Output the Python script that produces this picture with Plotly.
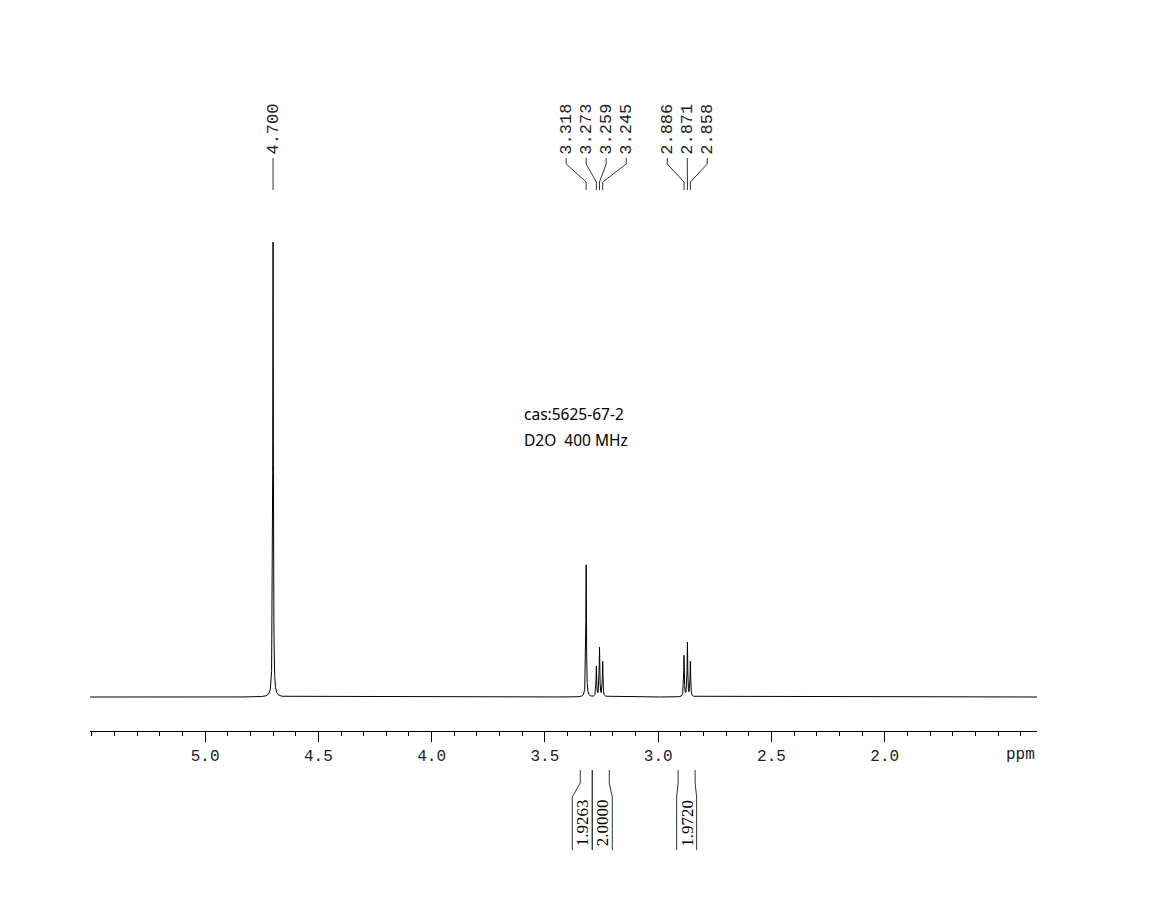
import numpy as np
import plotly.graph_objects as go

# ---------------- data ----------------
peak_ppm = [4.700, 3.318, 3.273, 3.259, 3.245, 2.886, 2.871, 2.858]
peak_height = [455, 132, 30, 49, 35, 41, 54, 35]          # relative intensity
peak_labels = ["4.700", "3.318", "3.273", "3.259", "3.245", "2.886", "2.871", "2.858"]
label_groups = [[0], [1, 2, 3, 4], [5, 6, 7]]

integral_bounds = [(3.344, 3.291), (3.291, 3.216), (2.912, 2.837)]
integral_values = ["1.9263", "2.0000", "1.9720"]

tick_vals = [5.5, 5.0, 4.5, 4.0, 3.5, 3.0, 2.5, 2.0, 1.5]
tick_text = ["", "5.0", "4.5", "4.0", "3.5", "3.0", "2.5", "2.0", ""]
x_range = [5.508, 1.328]

sample_text = ["cas:5625-67-2", "D2O  400 MHz"]

# ---------------- geometry / style ----------------
W, H = 1153, 899
BASE_PX = 697            # baseline pixel row
AXIS_PX = 731
PX_PER_PPM = 226.5
GAMMA = 0.0016           # lorentzian half width (ppm)
TEXT_GREY = "#222222"

def ypx(py):
    """convert page pixel row to y data units (pixels above baseline)"""
    return BASE_PX - py

# spectrum as sum of lorentzians of the picked peaks
grid = np.union1d(np.linspace(x_range[1], x_range[0], 21000), np.array(peak_ppm))
spec = np.zeros_like(grid)
for p, h in zip(peak_ppm, peak_height):
    spec += h * GAMMA**2 / ((grid - p) ** 2 + GAMMA**2)

fig = go.Figure()
fig.add_trace(go.Scatter(x=grid, y=spec, mode="lines",
                         line=dict(color="black", width=1), hoverinfo="skip",
                         showlegend=False))

shapes = []
annotations = []
line_style = dict(color="#333333", width=1)

# ---- peak labels with connector tree ----
spacing = 20 / PX_PER_PPM
for grp in label_groups:
    center = np.mean([peak_ppm[i] for i in grp])
    n = len(grp)
    for k, i in enumerate(grp):
        lx = center + ((n - 1) / 2 - k) * spacing
        px_ = peak_ppm[i]
        annotations.append(dict(x=lx, y=ypx(157), xref="x", yref="y",
                                text=peak_labels[i], showarrow=False,
                                textangle=-90, xanchor="center", yanchor="bottom",
                                font=dict(family="Liberation Mono", size=17, color=TEXT_GREY)))
        if n == 1:
            shapes.append(dict(type="line", xref="x", yref="y", x0=lx, x1=lx,
                               y0=ypx(158), y1=ypx(190), line=line_style))
        else:
            shapes.append(dict(type="line", xref="x", yref="y", x0=lx, x1=lx,
                               y0=ypx(158), y1=ypx(164), line=line_style))
            shapes.append(dict(type="line", xref="x", yref="y", x0=lx, x1=px_,
                               y0=ypx(164), y1=ypx(182), line=line_style))
            shapes.append(dict(type="line", xref="x", yref="y", x0=px_, x1=px_,
                               y0=ypx(182), y1=ypx(190), line=line_style))

# ---- integrals ----
minw = 20 / PX_PER_PPM
lows = []
for j, (a, b) in enumerate(integral_bounds):
    shared_left = j > 0 and abs(integral_bounds[j - 1][1] - a) < 1e-6
    shared_right = j < len(integral_bounds) - 1 and abs(integral_bounds[j + 1][0] - b) < 1e-6
    w = a - b
    la, lb = a, b
    if w < minw:
        if shared_left and not shared_right:
            lb = a - minw
        elif shared_right and not shared_left:
            la = b + minw
        elif not shared_left and not shared_right:
            la = (a + b) / 2 + minw / 2
            lb = (a + b) / 2 - minw / 2
    lows.append((la, lb))

for j, ((a, b), (la, lb)) in enumerate(zip(integral_bounds, lows)):
    for up, lo in ((a, la), (b, lb)):
        shapes.append(dict(type="line", xref="x", yref="y", x0=up, x1=up,
                           y0=ypx(770), y1=ypx(783), line=line_style))
        shapes.append(dict(type="line", xref="x", yref="y", x0=up, x1=lo,
                           y0=ypx(783), y1=ypx(797), line=line_style))
        shapes.append(dict(type="line", xref="x", yref="y", x0=lo, x1=lo,
                           y0=ypx(797), y1=ypx(850), line=line_style))
    annotations.append(dict(x=(la + lb) / 2, y=ypx(823), xref="x", yref="y",
                            text=integral_values[j], showarrow=False, textangle=-90,
                            xanchor="center", yanchor="middle",
                            font=dict(family="Liberation Serif", size=17, color="black")))

# ---- sample text ----
for k, t in enumerate(sample_text):
    annotations.append(dict(x=522 / W, y=1 - (414 + 26 * k) / H, xref="paper", yref="paper",
                            text=t, showarrow=False, xanchor="left", yanchor="middle",
                            font=dict(family="Noto Sans", size=15.5, color="black")))

# ---- ppm unit label ----
annotations.append(dict(x=1037 / W, y=1 - 755 / H, xref="paper", yref="paper",
                        text="ppm", showarrow=False, xanchor="right", yanchor="middle",
                        font=dict(family="Liberation Mono", size=16, color=TEXT_GREY)))

minor_vals = [round(v, 1) for v in np.arange(1.4, 5.6, 0.1)]

fig.update_layout(
    width=W, height=H, margin=dict(l=0, r=0, t=0, b=0),
    paper_bgcolor="white", plot_bgcolor="white",
    shapes=shapes, annotations=annotations, showlegend=False,
    xaxis=dict(domain=[90 / W, 1037 / W], range=x_range, anchor="free",
               position=(H - AXIS_PX) / H, showline=True, linecolor="black",
               linewidth=1, ticks="outside", ticklen=10, tickcolor="black",
               tickvals=tick_vals, ticktext=tick_text, showgrid=False, zeroline=False,
               tickfont=dict(family="Liberation Mono", size=16, color=TEXT_GREY),
               minor=dict(tickvals=minor_vals, ticks="outside", ticklen=4,
                          tickcolor="black", showgrid=False)),
    yaxis=dict(domain=[0, 1], range=[ypx(H), ypx(0)], visible=False),
)

fig.write_html("out.html", config={"displayModeBar": False},
               post_script="document.body.style.margin='0';")
